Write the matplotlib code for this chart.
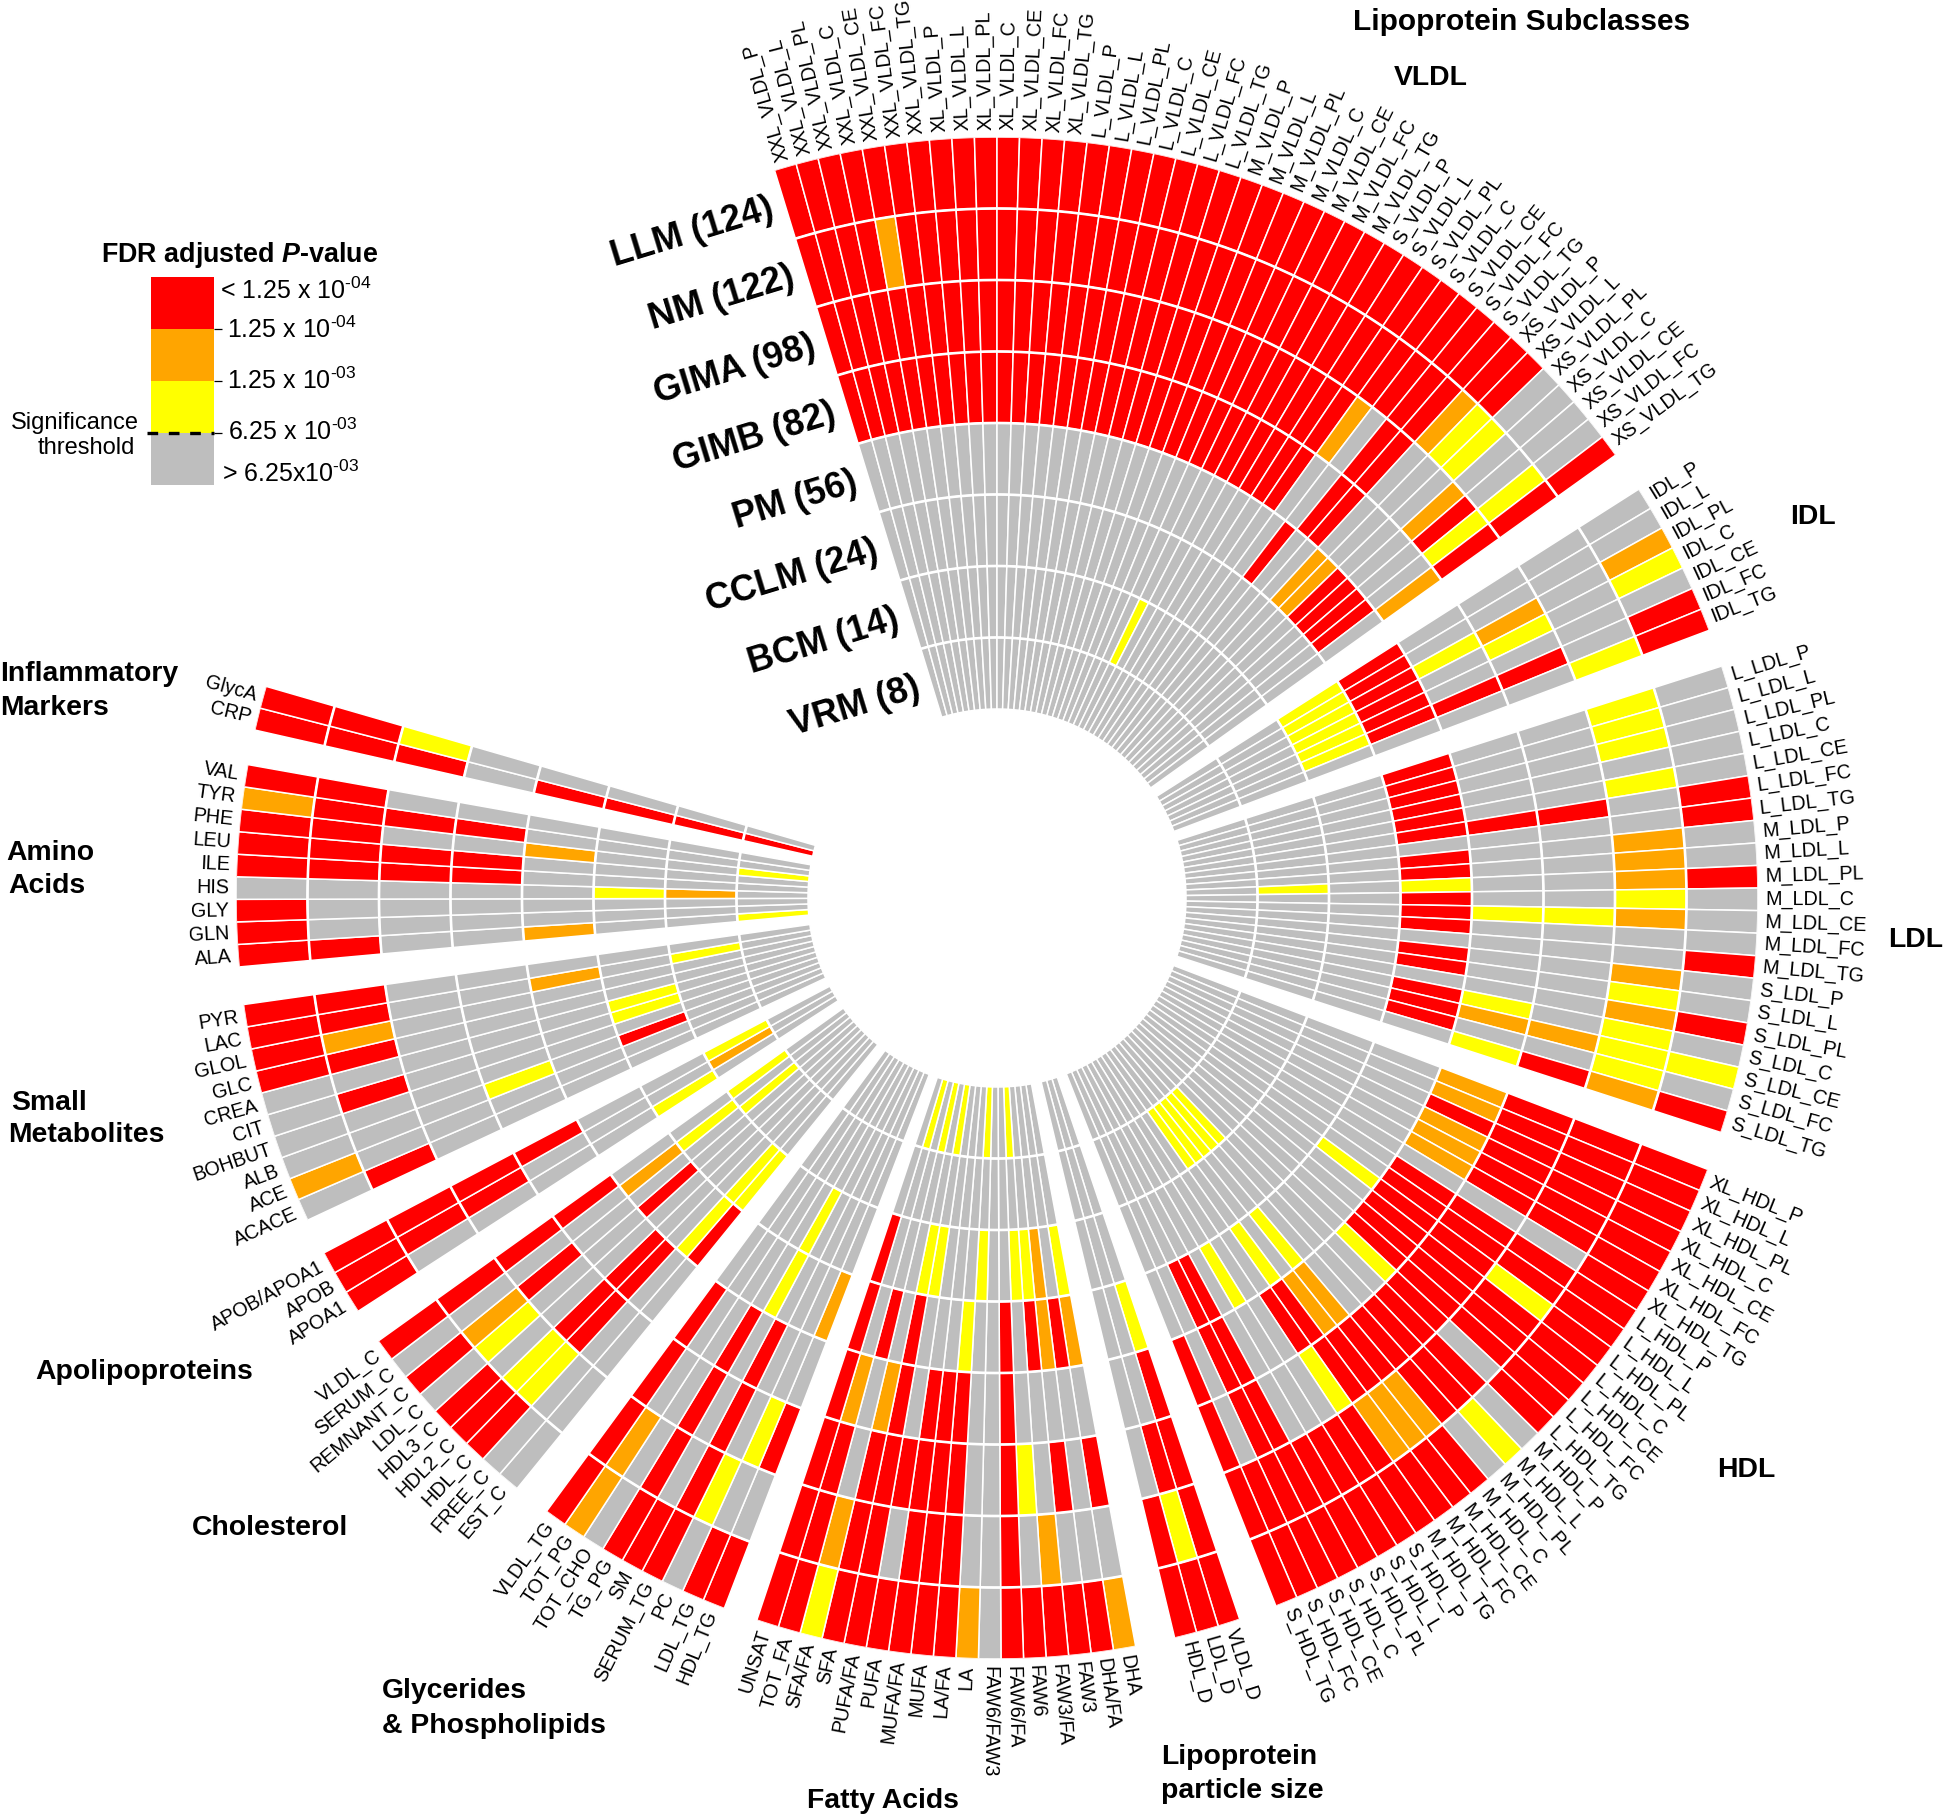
"""Circular heatmap of metabolite associations across eight brain regions."""
import numpy as np
import matplotlib
matplotlib.use("Agg")
import matplotlib.pyplot as plt

plt.rcParams["font.family"] = ["Liberation Sans", "DejaVu Sans"]
plt.rcParams["mathtext.fontset"] = "custom"
plt.rcParams["mathtext.rm"] = "Liberation Sans"
plt.rcParams["mathtext.bfit"] = "Liberation Sans:italic:bold"
plt.rcParams["mathtext.default"] = "regular"

W, H = 1944, 1814
CX, CY, R_IN, R_OUT = 997, 898, 189, 761
CELL_DEG = 1.70
FLIP_DEG = 181.5
# first edge of each metabolite group, degrees clockwise from north
GROUP_START_DEG = [-17.0, 57.5, 72.25, 110.9, 161.4, 169.5, 201.0, 219.1, 237.1, 244.95, 264.8, 282.75]

COLORS = {"r": "#FF0000", "o": "#FFA500", "y": "#FFFF00", "g": "#BEBEBE"}

RING_NAMES = ["LLM (124)", "NM (122)", "GIMA (98)", "GIMB (82)",
              "PM (56)", "CCLM (24)", "BCM (14)", "VRM (8)"]

# Names run clockwise; each string below is one ring, outermost first.
VLDL_NAMES = ["XXL_VLDL_P", "XXL_VLDL_L", "XXL_VLDL_PL", "XXL_VLDL_C", "XXL_VLDL_CE", "XXL_VLDL_FC", "XXL_VLDL_TG",
              "XL_VLDL_P", "XL_VLDL_L", "XL_VLDL_PL", "XL_VLDL_C", "XL_VLDL_CE", "XL_VLDL_FC", "XL_VLDL_TG",
              "L_VLDL_P", "L_VLDL_L", "L_VLDL_PL", "L_VLDL_C", "L_VLDL_CE", "L_VLDL_FC", "L_VLDL_TG",
              "M_VLDL_P", "M_VLDL_L", "M_VLDL_PL", "M_VLDL_C", "M_VLDL_CE", "M_VLDL_FC", "M_VLDL_TG",
              "S_VLDL_P", "S_VLDL_L", "S_VLDL_PL", "S_VLDL_C", "S_VLDL_CE", "S_VLDL_FC", "S_VLDL_TG",
              "XS_VLDL_P", "XS_VLDL_L", "XS_VLDL_PL", "XS_VLDL_C", "XS_VLDL_CE", "XS_VLDL_FC", "XS_VLDL_TG"]
VLDL_LEVELS = ["rrrrrrr rrrrrrr rrrrrrr rrrrrrr rrrrrrr rrggggr",
               "rrrrorr rrrrrrr rrrrrrr rrrrrrr rrrrrrr oyyggyr",
               "rrrrrrr rrrrrrr rrrrrrr rrrrrrr rrrogrr gggoryr",
               "rrrrrrr rrrrrrr rrrrrrr rrrrrrr rrrggrr ggggggo",
               "ggggggg ggggggg ggggggg ggggggg ggggrgg oorrrrg",
               "ggggggg ggggggg ggggggg ggggggg ggggggg ggggggg",
               "ggggggg ggggggg ggggggg ggggygg ggggggg ggggggg",
               "ggggggg ggggggg ggggggg ggggggg ggggggg ggggggg"]

IDL_NAMES = ["IDL_P", "IDL_L", "IDL_PL", "IDL_C", "IDL_CE", "IDL_FC", "IDL_TG"]
IDL_LEVELS = ["ggoygrr", "ggggggy", "ggoygrg", "ggyggrg",
              "rrrrrrg", "yyyyyyg", "ggggggg", "ggggggg"]

LDL_NAMES = ["L_LDL_P", "L_LDL_L", "L_LDL_PL", "L_LDL_C", "L_LDL_CE", "L_LDL_FC", "L_LDL_TG",
             "M_LDL_P", "M_LDL_L", "M_LDL_PL", "M_LDL_C", "M_LDL_CE", "M_LDL_FC", "M_LDL_TG",
             "S_LDL_P", "S_LDL_L", "S_LDL_PL", "S_LDL_C", "S_LDL_CE", "S_LDL_FC", "S_LDL_TG"]
LDL_LEVELS = ["gggggrr ggrgggr ggrgygr",
              "yyygygg oooyogg oyoyyyo",
              "gggggrg ggggygg ggggogr",
              "gggggrg ggggygg gggyogy",
              "rrrrrrg rryrrrg rrgrrrg",
              "ggggggg ggggggg ggggggg",
              "ggggggg ggygggg ggggggg",
              "ggggggg ggggggg ggggggg"]

HDL_NAMES = ["XL_HDL_P", "XL_HDL_L", "XL_HDL_PL", "XL_HDL_C", "XL_HDL_CE", "XL_HDL_FC", "XL_HDL_TG",
             "L_HDL_P", "L_HDL_L", "L_HDL_PL", "L_HDL_C", "L_HDL_CE", "L_HDL_FC", "L_HDL_TG",
             "M_HDL_P", "M_HDL_L", "M_HDL_PL", "M_HDL_C", "M_HDL_CE", "M_HDL_FC", "M_HDL_TG",
             "S_HDL_P", "S_HDL_L", "S_HDL_PL", "S_HDL_C", "S_HDL_CE", "S_HDL_FC", "S_HDL_TG"]
HDL_LEVELS = ["rrrrrrr rrrrrrr gygrrrr rrrrrrr",
              "rrrrrrg rryrrrg rrrooor rrrrrrr",
              "rrrrrrg rrrrrrr rrrrrry gggrrgr",
              "oorooog rrrrrry gggoorr gggrrgr",
              "ggggggg ggygggg gggygyg gygrrgg",
              "ggggggg ggggggg ggggggg ggggggg",
              "ggggggg ggggggg gyyyyyg ggggggg",
              "ggggggg ggggggg ggggggg ggggggg"]

SIZE_NAMES = ["VLDL_D", "LDL_D", "HDL_D"]
SIZE_LEVELS = ["rrr", "ryr", "rrg", "rgg", "ygg", "ggg", "ggg", "ggg"]

FA_NAMES = ["DHA", "DHA/FA", "FAW3", "FAW3/FA", "FAW6", "FAW6/FA", "FAW6/FAW3", "LA", "LA/FA",
            "MUFA", "MUFA/FA", "PUFA", "PUFA/FA", "SFA", "SFA/FA", "TOT_FA", "UNSAT"]
FA_LEVELS = ["orrrrrgorrrrrryrr",
             "gggogrggrrrgrrorr",
             "rgrgyrggrrrrrrgrr",
             "gggggrggrrrgrogor",
             "ororgrggygggrgrgr",
             "ygoyyggygggyygggr",
             "ggggggggggggggggg",
             "ggggyggygggygygyg"]

GLYC_NAMES = ["HDL_TG", "LDL_TG", "PC", "SERUM_TG", "SM", "TG_PG", "TOT_CHO", "TOT_PG", "VLDL_TG"]
GLYC_LEVELS = ["rrgrrrgor", "ggyrgrgor", "rygrgrggr", "gggrgrggr",
               "ogggygggg", "ggggygggg", "ggggggggg", "ggggggggg"]

CHOL_NAMES = ["EST_C", "FREE_C", "HDL_C", "HDL2_C", "HDL3_C", "LDL_C", "REMNANT_C", "SERUM_C", "VLDL_C"]
CHOL_LEVELS = ["ggrrrgrgr", "ggyygyogr", "ggrrggrgr", "ggrrggggr",
               "rygggrgog", "yygggggyg", "ggggggygy", "ggggggggg"]

APO_NAMES = ["APOA1", "APOB", "APOB/APOA1"]
APO_LEVELS = ["rrr", "grr", "grr", "ggr", "ggg", "ygg", "goy", "ggg"]

SMALL_NAMES = ["ACACE", "ACE", "ALB", "BOHBUT", "CIT", "CREA", "GLC", "GLOL", "LAC", "PYR"]
SMALL_LEVELS = ["goggggrrrr", "rgggrgrorr", "gggggggggg", "ggyggggggg",
                "ggggggggog", "ggrgyygggg", "ggggggggyg", "gggggggggg"]

AMINO_NAMES = ["ALA", "GLN", "GLY", "HIS", "ILE", "LEU", "PHE", "TYR", "VAL"]
AMINO_LEVELS = ["rrrgrrror", "rgggrrrrr", "ggggrrgrg", "ggggrrgrg",
                "ogggggogg", "gggyggggg", "gggoggggg", "ygggggygg"]

INFL_NAMES = ["CRP", "GlycA"]
INFL_LEVELS = ["rr", "rr", "ry", "gg", "rg", "rg", "rg", "rg"]

GROUPS = [(VLDL_NAMES, VLDL_LEVELS), (IDL_NAMES, IDL_LEVELS), (LDL_NAMES, LDL_LEVELS),
          (HDL_NAMES, HDL_LEVELS), (SIZE_NAMES, SIZE_LEVELS), (FA_NAMES, FA_LEVELS),
          (GLYC_NAMES, GLYC_LEVELS), (CHOL_NAMES, CHOL_LEVELS), (APO_NAMES, APO_LEVELS),
          (SMALL_NAMES, SMALL_LEVELS), (AMINO_NAMES, AMINO_LEVELS), (INFL_NAMES, INFL_LEVELS)]

# text, x px, y px, horizontal alignment, font size
GROUP_TITLES = [("Lipoprotein Subclasses", 1522, 22, "center", 21.5),
                ("VLDL", 1431, 78, "center", 20.4),
                ("IDL", 1813, 517, "center", 20.4),
                ("LDL", 1888, 940, "left", 20.4),
                ("HDL", 1746, 1470, "center", 20.4),
                ("Lipoprotein", 1161, 1757, "left", 20.4),
                ("particle size", 1161, 1791, "left", 20.4),
                ("Fatty Acids", 883, 1801, "center", 20.4),
                ("Glycerides", 382, 1691, "left", 20.4),
                ("& Phospholipids", 382, 1726, "left", 20.4),
                ("Cholesterol", 270, 1528, "center", 20.4),
                ("Apolipoproteins", 144, 1372, "center", 20.4),
                ("Small", 11, 1103, "left", 20.4),
                ("Metabolites", 8, 1135, "left", 20.4),
                ("Amino", 6, 853, "left", 20.4),
                ("Acids", 8, 886, "left", 20.4),
                ("Inflammatory", 0, 674, "left", 20.4),
                ("Markers", 0, 708, "left", 20.4)]

LEGEND_COLORS = ["g", "y", "o", "r"]
LEGEND_TICKS = [1, 2, 3]
LEGEND_LABELS = [(r"< 1.25 x 10$^{\text{-04}}$", 220, 291),
                 (r"1.25 x 10$^{\text{-04}}$", 227, 330),
                 (r"1.25 x 10$^{\text{-03}}$", 227, 381),
                 (r"6.25 x 10$^{\text{-03}}$", 228, 432),
                 (r"> 6.25x10$^{\text{-03}}$", 222, 474)]


def px(x, y):
    return x / W, 1 - y / H


def draw_wheel(fig):
    ax = fig.add_axes([(CX - R_OUT) / W, 1 - (CY + R_OUT) / H,
                       2 * R_OUT / W, 2 * R_OUT / H], projection="polar")
    ax.set_theta_zero_location("N")
    ax.set_theta_direction(-1)
    ring_h = (R_OUT - R_IN) / 8
    for theta, (names, levels) in zip(GROUP_START_DEG, GROUPS):
        for ring, row in enumerate(levels):
            row = row.replace(" ", "")
            bottom = R_OUT - (ring + 1) * ring_h
            mids = np.deg2rad(theta + CELL_DEG * (np.arange(len(names)) + 0.5))
            ax.bar(mids, ring_h, width=np.deg2rad(CELL_DEG), bottom=bottom,
                   color=[COLORS[c] for c in row], edgecolor="white", linewidth=1.1)
        end = theta + CELL_DEG * len(names)
        arc = np.deg2rad(np.linspace(theta, end, 60))
        for ring in range(1, 8):
            ax.plot(arc, np.full(60, R_OUT - ring * ring_h), color="white", lw=1.9)
        for i, name in enumerate(names):
            a = theta + CELL_DEG * (i + 0.5)
            if a < FLIP_DEG:
                rot, ha = 90 - a, "left"
            else:
                rot, ha = 270 - a, "right"
            ax.text(np.deg2rad(a), R_OUT + 7, name, rotation=rot, ha=ha, va="center",
                    rotation_mode="anchor", fontsize=14.2)
    for ring, name in enumerate(RING_NAMES):
        r = R_OUT - (ring + 0.5) * ring_h
        # keep a constant pixel gap between the ring name and the first cell
        a = GROUP_START_DEG[0] - np.rad2deg(13 / r)
        ax.text(np.deg2rad(a), r, name, rotation=17, ha="right", va="center",
                rotation_mode="anchor", fontsize=26, fontweight="bold")
    ax.set_ylim(0, R_OUT)
    ax.axis("off")


def draw_legend(fig):
    left, right, top, bottom = 150.7, 214, 277.3, 485
    ax = fig.add_axes([left / W, 1 - bottom / H, (right - left) / W, (bottom - top) / H])
    ax.bar([0] * 4, [1] * 4, bottom=range(4), width=1,
           color=[COLORS[c] for c in LEGEND_COLORS])
    ax.set_xlim(-0.5, 0.5)
    ax.set_ylim(0, 4)
    ax.set_xticks([])
    ax.yaxis.tick_right()
    ax.set_yticks(LEGEND_TICKS)
    ax.set_yticklabels([])
    ax.tick_params(axis="y", length=5.8, width=0.9)
    for s in ax.spines.values():
        s.set_visible(False)
    x0, y0 = px(147, 433)
    x1, _ = px(214, 433)
    fig.add_artist(plt.Line2D([x0, x1], [y0, y0], color="black", lw=2.4,
                              dashes=(3.2, 3.2)))
    x, y = px(240, 255)
    fig.text(x, y, r"FDR adjusted $\mathbfit{P}$-value", fontsize=19.4, fontweight="bold",
             ha="center", va="center")
    for label, lx, ly in LEGEND_LABELS:
        x, y = px(lx, ly)
        fig.text(x, y, label, fontsize=18, ha="left", va="center")
    x, y = px(75, 423)
    fig.text(x, y, "Significance", fontsize=17, ha="center", va="center")
    x, y = px(86, 448)
    fig.text(x, y, "threshold", fontsize=17, ha="center", va="center")


def main():
    fig = plt.figure(figsize=(W / 100, H / 100), dpi=100)
    draw_wheel(fig)
    draw_legend(fig)
    for text, x, y, ha, size in GROUP_TITLES:
        fx, fy = px(x, y)
        fig.text(fx, fy, text, fontsize=size, fontweight="bold", ha=ha, va="center")
    fig.savefig("out.png", dpi=100, facecolor="white")
    plt.close(fig)


if __name__ == "__main__":
    main()
